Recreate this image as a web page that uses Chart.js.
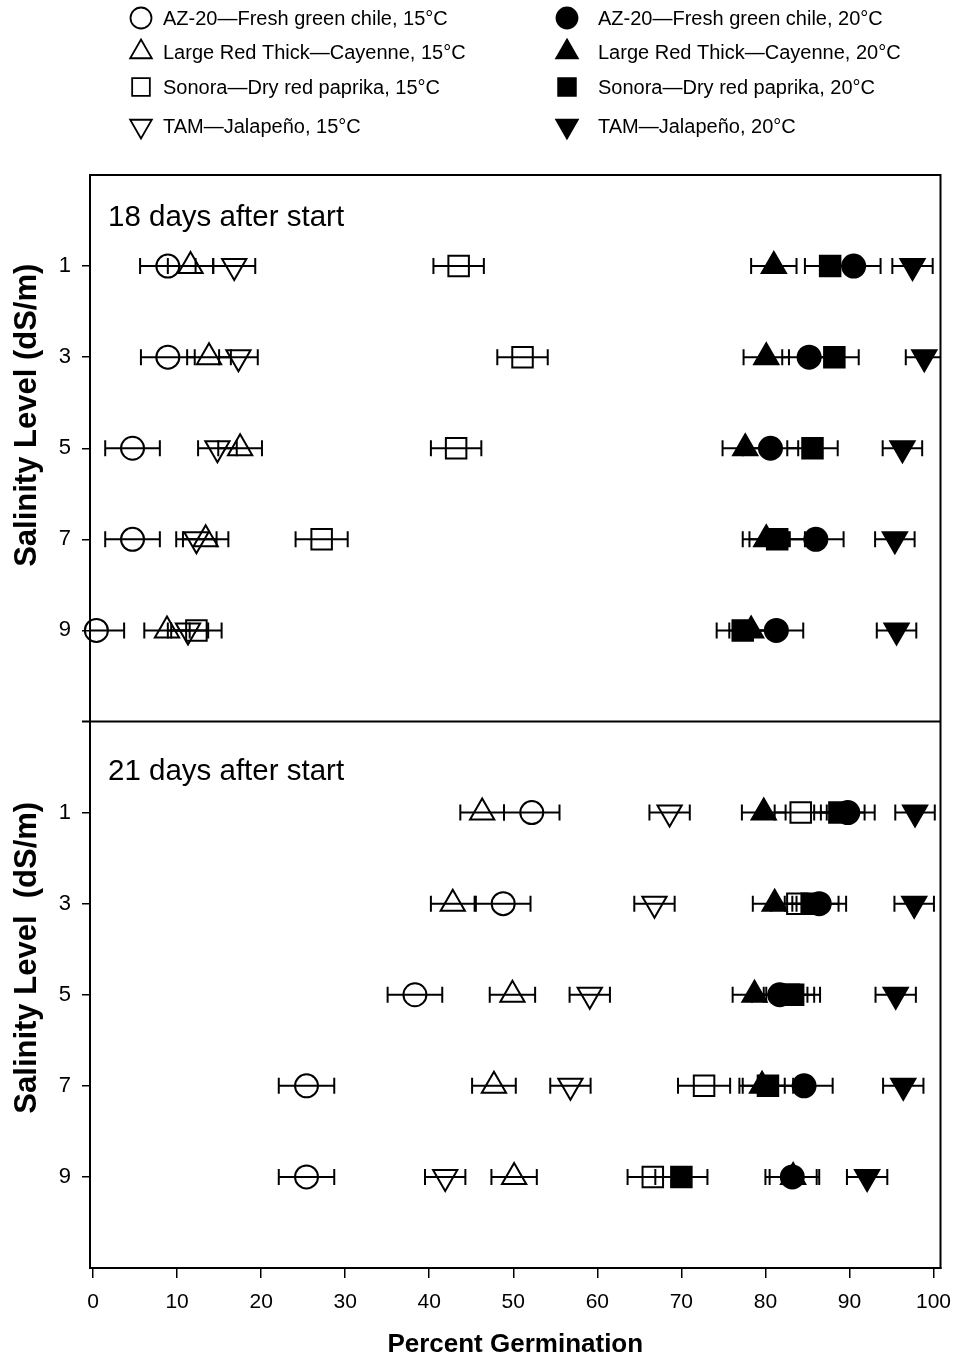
<!DOCTYPE html>
<html>
<head>
<meta charset="utf-8">
<script src="https://cdn.jsdelivr.net/npm/chart.js@4.4.0/dist/chart.umd.min.js"></script>
<style>
  html, body { margin: 0; padding: 0; background: #fff; }
  canvas { display: block; }
</style>
</head>
<body>
<canvas id="myChart" width="957" height="1360"></canvas>
<script>
// salinity levels (dS/m) and x tick labels
let salinity = [1, 3, 5, 7, 9];
let xTicks = [0, 10, 20, 30, 40, 50, 60, 70, 80, 90, 100];
let panelTitles = ['18 days after start', '21 days after start'];
let yTitles = ['Salinity Level (dS/m)', 'Salinity Level  (dS/m)'];

let seriesNames = [
  'AZ-20\u2014Fresh green chile, 15\u00b0C',
  'Large Red Thick\u2014Cayenne, 15\u00b0C',
  'Sonora\u2014Dry red paprika, 15\u00b0C',
  'TAM\u2014Jalape\u00f1o, 15\u00b0C',
  'AZ-20\u2014Fresh green chile, 20\u00b0C',
  'Large Red Thick\u2014Cayenne, 20\u00b0C',
  'Sonora\u2014Dry red paprika, 20\u00b0C',
  'TAM\u2014Jalape\u00f1o, 20\u00b0C'
];

// percent germination, one row per series, one value per salinity level
let day18Means = [
  [8.9, 8.9, 4.7, 4.7, 0.4],      // AZ-20 15C
  [11.6, 13.8, 17.5, 13.4, 8.8],  // Large Red Thick 15C
  [43.5, 51.1, 43.2, 27.2, 12.3], // Sonora 15C
  [16.8, 17.3, 14.8, 12.3, 11.3], // TAM 15C
  [90.5, 85.2, 80.6, 86.0, 81.3], // AZ-20 20C
  [81.0, 80.1, 77.6, 80.1, 78.3], // Large Red Thick 20C
  [87.7, 88.2, 85.6, 81.4, 77.3], // Sonora 20C
  [97.5, 98.9, 96.3, 95.4, 95.6]  // TAM 20C
];
let day18Errors = [
  [3.3, 3.2, 3.25, 3.25, 3.3],
  [2.7, 2.6, 2.6, 2.7, 2.7],
  [3.0, 3.0, 3.0, 3.1, 3.0],
  [2.5, 2.3, 2.3, 2.4, 2.4],
  [3.2, 3.2, 3.3, 3.3, 3.2],
  [2.7, 2.7, 2.7, 2.8, 2.6],
  [3.0, 2.9, 3.0, 3.3, 3.1],
  [2.4, 2.2, 2.35, 2.35, 2.35]
];

let day21Means = [
  [52.2, 48.8, 38.3, 25.4, 25.4], // AZ-20 15C
  [46.3, 42.8, 49.9, 47.7, 50.1], // Large Red Thick 15C
  [84.2, 83.8, 82.8, 72.7, 66.6], // Sonora 15C
  [68.6, 66.8, 59.1, 56.8, 41.9], // TAM 15C
  [89.8, 86.4, 81.7, 84.6, 83.2], // AZ-20 20C
  [79.8, 81.1, 78.7, 79.6, 83.3], // Large Red Thick 20C
  [88.8, 85.5, 83.3, 80.3, 70.0], // Sonora 20C
  [97.8, 97.7, 95.5, 96.4, 92.1]  // TAM 20C
];
let day21Errors = [
  [3.3, 3.25, 3.25, 3.3, 3.3],
  [2.6, 2.6, 2.7, 2.6, 2.7],
  [3.1, 3.1, 3.0, 3.1, 3.0],
  [2.4, 2.4, 2.4, 2.4, 2.4],
  [3.2, 3.2, 3.3, 3.4, 3.2],
  [2.6, 2.6, 2.6, 2.7, 2.8],
  [3.0, 3.2, 3.2, 3.0, 3.1],
  [2.35, 2.35, 2.4, 2.4, 2.4]
];

// marker styles per series
let markerShape = ['circle', 'triangle', 'rect', 'triangle', 'circle', 'triangle', 'rect', 'triangle'];
let markerRotation = [0, 0, 0, 180, 0, 0, 0, 180];
let markerRadius = [11.5, 14, 14.5, 14, 11.5, 14, 14.5, 14];
let markerFilled = [false, false, false, false, true, true, true, true];

let sansFont = "'Liberation Sans', Arial, sans-serif";
let narrowFont = "'Liberation Sans Narrow', 'Arial Narrow', 'Liberation Sans', sans-serif";

let datasets = [];
function addPanel(means, errors, axisId) {
  seriesNames.forEach((name, i) => {
    datasets.push({
      label: name,
      yAxisID: axisId,
      data: salinity.map((lvl, j) => ({ x: means[i][j], y: lvl, err: errors[i][j] })),
      pointStyle: markerShape[i],
      rotation: markerRotation[i],
      pointRadius: markerRadius[i],
      pointBorderWidth: 2,
      borderColor: '#000',
      backgroundColor: markerFilled[i] ? '#000' : 'rgba(0,0,0,0)',
      showLine: false,
      clip: false
    });
  });
}
addPanel(day18Means, day18Errors, 'yTop');
addPanel(day21Means, day21Errors, 'yBot');

// horizontal error bars with caps, drawn under the markers
const errorBars = {
  id: 'errorBars',
  beforeDatasetsDraw(chart) {
    const ctx = chart.ctx, xs = chart.scales.x, area = chart.chartArea;
    ctx.save();
    ctx.beginPath();
    ctx.rect(area.left, area.top, area.right - area.left, area.bottom - area.top);
    ctx.clip();
    ctx.strokeStyle = '#000';
    ctx.lineWidth = 2;
    chart.data.datasets.forEach(ds => {
      const ys = chart.scales[ds.yAxisID];
      ds.data.forEach(p => {
        const y = ys.getPixelForValue(p.y);
        const x0 = xs.getPixelForValue(p.x - p.err);
        const x1 = xs.getPixelForValue(p.x + p.err);
        ctx.beginPath();
        ctx.moveTo(x0, y); ctx.lineTo(x1, y);
        ctx.moveTo(x0, y - 8); ctx.lineTo(x0, y + 8);
        ctx.moveTo(x1, y - 8); ctx.lineTo(x1, y + 8);
        ctx.stroke();
      });
    });
    ctx.restore();
  }
};

// outer frame, panel divider, panel titles and y titles
const panelFrame = {
  id: 'panelFrame',
  afterDatasetsDraw(chart) {
    const ctx = chart.ctx, a = chart.chartArea;
    const top = chart.scales.yTop, bot = chart.scales.yBot;
    ctx.save();
    ctx.strokeStyle = '#000';
    ctx.lineWidth = 2;
    ctx.strokeRect(a.left, a.top, a.right - a.left, a.bottom - a.top);
    ctx.beginPath();
    ctx.moveTo(a.left - 8, top.bottom); ctx.lineTo(a.right, top.bottom);
    ctx.stroke();
    ctx.fillStyle = '#000';
    ctx.font = '29.5px ' + sansFont;
    ctx.textBaseline = 'middle';
    ctx.fillText(panelTitles[0], a.left + 18, top.top + 43);
    ctx.fillText(panelTitles[1], a.left + 18, bot.top + 50);

    // rotated axis titles, set a little above each panel's middle
    ctx.font = 'bold 31px ' + sansFont;
    ctx.textAlign = 'center';
    [[top, 33], [bot, 37]].forEach(([s, lift], k) => {
      ctx.save();
      ctx.translate(27, (s.top + s.bottom) / 2 - lift);
      ctx.rotate(-Math.PI / 2);
      ctx.fillText(yTitles[k], 0, 0);
      ctx.restore();
    });
    ctx.restore();
  }
};

// two-column legend above the plot
const topLegend = {
  id: 'topLegend',
  afterDraw(chart) {
    const ctx = chart.ctx;
    const colMarkerX = [141, 567], colTextX = [163, 598];
    const rowY = [18, 52, 87, 126];
    ctx.save();
    ctx.font = '20px ' + sansFont;
    ctx.textBaseline = 'middle';
    seriesNames.forEach((name, i) => {
      const col = markerFilled[i] ? 1 : 0, row = i % 4;
      const x = colMarkerX[col], y = rowY[row];
      ctx.strokeStyle = '#000';
      ctx.fillStyle = markerFilled[i] ? '#000' : 'rgba(0,0,0,0)';
      ctx.lineWidth = 1.8;
      Chart.helpers.drawPoint(ctx, {
        pointStyle: markerShape[i],
        rotation: markerRotation[i],
        radius: markerShape[i] === 'circle' ? 10.5 : 12.5,
        borderWidth: 1.8
      }, x, y);
      ctx.fillStyle = '#000';
      ctx.fillText(name, colTextX[col], y + 1);
    });
    ctx.restore();
  }
};

const yAxis = () => ({
  type: 'linear',
  position: 'left',
  stack: 'panels',
  stackWeight: 1,
  reverse: true,
  min: -1,
  max: 11,
  afterBuildTicks: s => { s.ticks = salinity.map(v => ({ value: v })); },
  afterFit: s => { s.width = 90; s.paddingTop = 0; s.paddingBottom = 0; },
  ticks: { color: '#000', padding: 11, font: { family: sansFont, size: 22 } },
  grid: { display: true, drawOnChartArea: false, drawTicks: true, tickLength: 8, color: '#000', lineWidth: 1.5 },
  border: { display: true, color: '#000', width: 2 },
  title: { display: false }
});

let ctx = document.getElementById('myChart').getContext('2d');
let myChart = new Chart(ctx, {
  type: 'scatter',
  data: { datasets: datasets },
  options: {
    responsive: false,
    animation: false,
    layout: { padding: { top: 175, right: 14, left: 0, bottom: 0 } },
    plugins: { legend: { display: false }, tooltip: { enabled: false } },
    scales: {
      x: {
        type: 'linear',
        position: 'bottom',
        min: -0.36,
        max: 100.83,
        afterBuildTicks: s => { s.ticks = xTicks.map(v => ({ value: v })); },
        afterFit: s => { s.height = 92; s.paddingLeft = 0; s.paddingRight = 0; },
        ticks: { color: '#000', padding: 12, maxRotation: 0, font: { family: narrowFont, size: 21 } },
        grid: { display: true, drawOnChartArea: false, drawTicks: true, tickLength: 10, color: '#000', lineWidth: 1.5 },
        border: { display: true, color: '#000', width: 2 },
        title: { display: true, text: 'Percent Germination', color: '#000', padding: { top: 0, bottom: 0 },
                 font: { family: sansFont, size: 26, weight: 'bold' } }
      },
      // later stacked axis is placed on top
      yBot: yAxis(),
      yTop: yAxis()
    }
  },
  plugins: [errorBars, panelFrame, topLegend]
});
</script>
</body>
</html>
